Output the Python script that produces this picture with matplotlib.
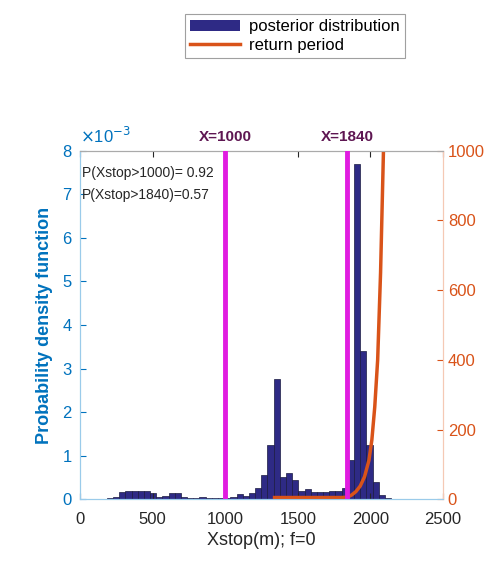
import matplotlib
matplotlib.use('Agg')
import matplotlib.pyplot as plt
from matplotlib.patches import Patch
from matplotlib.lines import Line2D
import matplotlib.transforms as mtransforms
import numpy as np

plt.rcParams['font.family'] = ['Liberation Sans', 'DejaVu Sans']

# histogram of posterior (50 bins), density in units of 1e-3
bin_lo = 142
bin_hi = 2270
density_e3 = [0.01, 0.03, 0.05, 0.16, 0.18, 0.18, 0.19, 0.18, 0.15, 0.05,
              0.08, 0.14, 0.14, 0.05, 0.02, 0.02, 0.05, 0.02, 0.02, 0.04,
              0.02, 0.06, 0.12, 0.08, 0.15, 0.27, 0.56, 1.24, 2.76, 0.50,
              0.60, 0.44, 0.20, 0.23, 0.17, 0.17, 0.17, 0.18, 0.20, 0.25,
              0.90, 7.69, 3.41, 1.25, 0.39, 0.09, 0.04, 0.01, 0.005, 0.005]

# return period curve
rp_x = [1340, 1600, 1800, 1840, 1870, 1900, 1930, 1960, 1990, 2010, 2030, 2050, 2070, 2090]
rp_y = [5, 5, 5, 6, 12, 22, 38, 65, 112, 170, 265, 400, 650, 1000]

thresholds = [1000, 1840]
probs = ['P(Xstop>1000)= 0.92', 'P(Xstop>1840)=0.57']

blue = '#0072BD'
orange = '#D95319'
magenta = '#E01CE0'
navy = '#2E2A85'
dark = '#262626'

fig = plt.figure(figsize=(5, 5.62), dpi=100)
ax = fig.add_axes([0.16, 0.1116, 0.726, 0.6203])
ax2 = ax.twinx()

edges = np.linspace(bin_lo, bin_hi, len(density_e3) + 1)
ax.bar(edges[:-1], density_e3, width=np.diff(edges), align='edge',
       color=navy, edgecolor='#1a1a40', linewidth=0.5)

ax2.plot(rp_x, rp_y, color=orange, linewidth=2.5, zorder=2)
for t in thresholds:
    ax2.axvline(t, color=magenta, linewidth=3.5, zorder=3)

ax.set_xlim(0, 2500)
ax.set_ylim(0, 8)
ax2.set_ylim(0, 1000)
ax.set_xticks([0, 500, 1000, 1500, 2000, 2500])
ax.set_yticks(range(0, 9))
ax2.set_yticks([0, 200, 400, 600, 800, 1000])

ax.tick_params(axis='x', colors=dark, labelsize=12, direction='in', top=True,
               length=4, pad=9)
ax.tick_params(axis='y', colors=blue, labelsize=12, direction='in', length=4, pad=6)
ax2.tick_params(axis='y', colors=orange, labelsize=12, direction='in', length=4)

for a in (ax, ax2):
    a.spines['left'].set_color('#9ACBEA')
    a.spines['right'].set_color('#F5C9B5')
    a.spines['top'].set_color('#AAAAAA')
    a.spines['bottom'].set_color('#9ACBEA')

ax.set_xlabel('Xstop(m); f=0', fontsize=13, color=dark, labelpad=4)
ax.set_ylabel('Probability density function', fontsize=13, color=blue, fontweight='bold')
ax.yaxis.set_label_coords(-0.075, 0.5)
ax2.set_ylabel('Return period (years)', fontsize=13, color=orange, fontweight='bold', rotation=90)
ax2.yaxis.set_label_coords(1.17, 0.5)

ax.text(0.0, 1.012, r'$\times$10$^{-3}$', transform=ax.transAxes, color=blue,
        fontsize=12, ha='left', va='bottom')

trans = mtransforms.blended_transform_factory(ax.transData, ax.transAxes)
for t in thresholds:
    ax.text(t, 1.02, f'X={t}', transform=trans, color='#5E1652', fontsize=11,
            fontweight='bold', ha='center', va='bottom')

ax.text(0.005, 0.935, probs[0], transform=ax.transAxes, fontsize=10, color=dark, va='center')
ax.text(0.005, 0.872, probs[1], transform=ax.transAxes, fontsize=10, color=dark, va='center')

handles = [Patch(facecolor=navy, edgecolor='none'),
           Line2D([0], [0], color=orange, linewidth=2.5)]
leg = fig.legend(handles, ['posterior distribution', 'return period'],
                 loc='center', bbox_to_anchor=(0.59, 0.936), fontsize=12,
                 fancybox=False, edgecolor='#888888', handlelength=3,
                 borderpad=0.3, labelspacing=0.2, handletextpad=0.5)
leg.get_frame().set_linewidth(0.8)

fig.savefig('out.png', dpi=100)
